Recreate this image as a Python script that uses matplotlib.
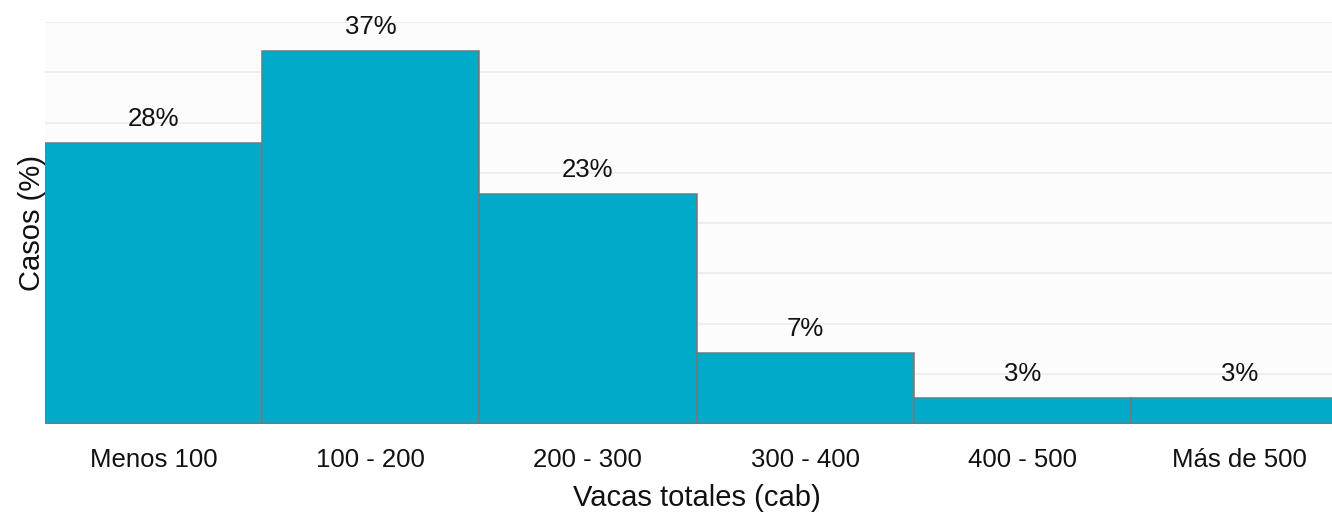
import numpy as np
import matplotlib.pyplot as plt

plt.rcParams['font.family'] = ['Liberation Sans', 'DejaVu Sans']

categorias = ["Menos 100", "100 - 200", "200 - 300", "300 - 400", "400 - 500", "Más de 500"]
casos = [28.0, 37.1, 22.9, 7.1, 2.6, 2.6]  # porcentaje de casos

fig = plt.figure(figsize=(13.32, 5.12), dpi=100)
# el eje se sale un poco por la derecha, igual que en la imagen original
ax = fig.add_axes([45 / 1332, 88 / 512, 1303 / 1332, 402 / 512])
ax.set_facecolor('#FCFCFC')

x = np.arange(len(categorias))
barras = ax.bar(x, casos, width=1.0, color='#00AAC8', edgecolor='#777777',
                linewidth=1.1, zorder=3)

# etiquetas encima de cada barra
for xi, v in zip(x, casos):
    ax.annotate(f"{v:.0f}%", (xi, v), xytext=(0, 12), textcoords='offset points',
                ha='center', va='baseline', fontsize=18.5, color='#111111',
                annotation_clip=False, zorder=4)

ax.set_xlim(-0.5, 5.5)
ax.set_ylim(0, 40)
ax.set_yticks(np.arange(0, 41, 5))
ax.set_yticklabels([])
ax.set_xticks(x)
ax.set_xticklabels(categorias, fontsize=18.5, color='#111111')
ax.tick_params(axis='both', length=0)
ax.tick_params(axis='x', pad=17)
ax.grid(axis='y', color='#EBEBEB', linewidth=1.1, zorder=0)
ax.set_axisbelow(True)
for s in ax.spines.values():
    s.set_visible(False)

ax.set_xlabel("Vacas totales (cab)", fontsize=21, color='#111111', labelpad=9)
ax.set_ylabel("Casos (%)", fontsize=21, color='#111111', labelpad=-4)

fig.savefig("out.png", dpi=100, facecolor='white')
